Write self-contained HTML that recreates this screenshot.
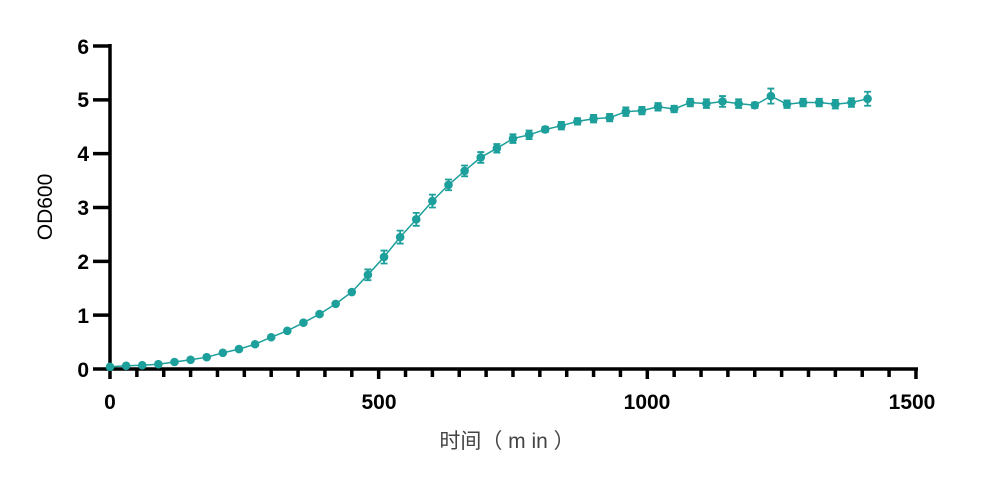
<!DOCTYPE html>
<html><head><meta charset="utf-8"><style>
html,body{margin:0;padding:0;background:#fff;width:1000px;height:480px;overflow:hidden}
svg{display:block}
</style></head><body>
<svg id="s" width="1000" height="480" xmlns="http://www.w3.org/2000/svg">
<g id="axes" stroke="#000" stroke-width="3.5" fill="none">
<line x1="110" y1="44" x2="110" y2="370.5"/>
<line x1="108.5" y1="369" x2="918" y2="369"/>
</g>
<g id="ticks" stroke="#000" stroke-width="3.5"></g>
<g font-family="Liberation Sans, sans-serif" font-weight="bold" font-size="21" fill="#000" text-anchor="end">
<text x="89" y="377">0</text><text x="89" y="323">1</text><text x="89" y="269">2</text><text x="89" y="215">3</text><text x="89" y="161">4</text><text x="89" y="107">5</text><text x="89" y="54">6</text>
</g>
<g font-family="Liberation Sans, sans-serif" font-weight="bold" font-size="21" fill="#000" text-anchor="middle">
<text x="110" y="409">0</text><text x="379" y="409">500</text><text x="647" y="409">1000</text><text x="912" y="409">1500</text>
</g>
<text transform="translate(52,207) rotate(-90)" text-anchor="middle" font-family="Liberation Sans, sans-serif" font-size="21" fill="#000">OD600</text>
<text x="507" y="448" text-anchor="middle" font-family="Liberation Sans, 'Noto Sans CJK SC', sans-serif" font-size="21" fill="#444">时间（ m in ）</text>
<g id="data"></g>
</svg>
<script>
var v=[0.04,0.06,0.07,0.09,0.13,0.17,0.22,0.30,0.37,0.46,0.59,0.71,0.86,1.02,1.21,1.43,1.75,2.08,2.45,2.78,3.12,3.42,3.68,3.93,4.10,4.28,4.35,4.45,4.52,4.60,4.65,4.67,4.78,4.80,4.87,4.83,4.95,4.93,4.97,4.93,4.90,5.07,4.92,4.95,4.95,4.92,4.95,5.02];
var e=[0,0,0,0,0,0,0,0,0,0,0,0,0,0,0,0.03,0.1,0.12,0.12,0.12,0.12,0.1,0.1,0.1,0.08,0.08,0.08,0.05,0.07,0.06,0.07,0.07,0.08,0.07,0.07,0.06,0.07,0.08,0.1,0.08,0.05,0.14,0.07,0.07,0.07,0.08,0.08,0.13];
var X=function(t){return 110+t*0.5373},Y=function(y){return 369-y*53.83};
var tk='';
for(var i=0;i<=6;i++)tk+='<line x1="93" x2="110" y1="'+Y(i)+'" y2="'+Y(i)+'"/>';
for(var t=0;t<=1500;t+=50)tk+='<line x1="'+X(t)+'" x2="'+X(t)+'" y1="369" y2="'+(t%500==0?379:377)+'"/>';
document.getElementById('ticks').innerHTML=tk;
var c='#1d9f9b',p='',d='';
for(var i=0;i<v.length;i++){var x=X(i*30),y=Y(v[i]);p+=(i?'L':'M')+x.toFixed(1)+' '+y.toFixed(1);
if(e[i]>0){var a=Y(v[i]+e[i]),b=Y(v[i]-e[i]);d+='<path d="M'+x+' '+a+'V'+b+'M'+(x-3.5)+' '+a+'h7M'+(x-3.5)+' '+b+'h7" stroke="'+c+'" stroke-width="1.8" fill="none"/>';}
d+='<circle cx="'+x+'" cy="'+y+'" r="4.3" fill="'+c+'"/>';}
document.getElementById('data').innerHTML='<path d="'+p+'" stroke="'+c+'" stroke-width="1.5" fill="none"/>'+d;
</script>
</body></html>
